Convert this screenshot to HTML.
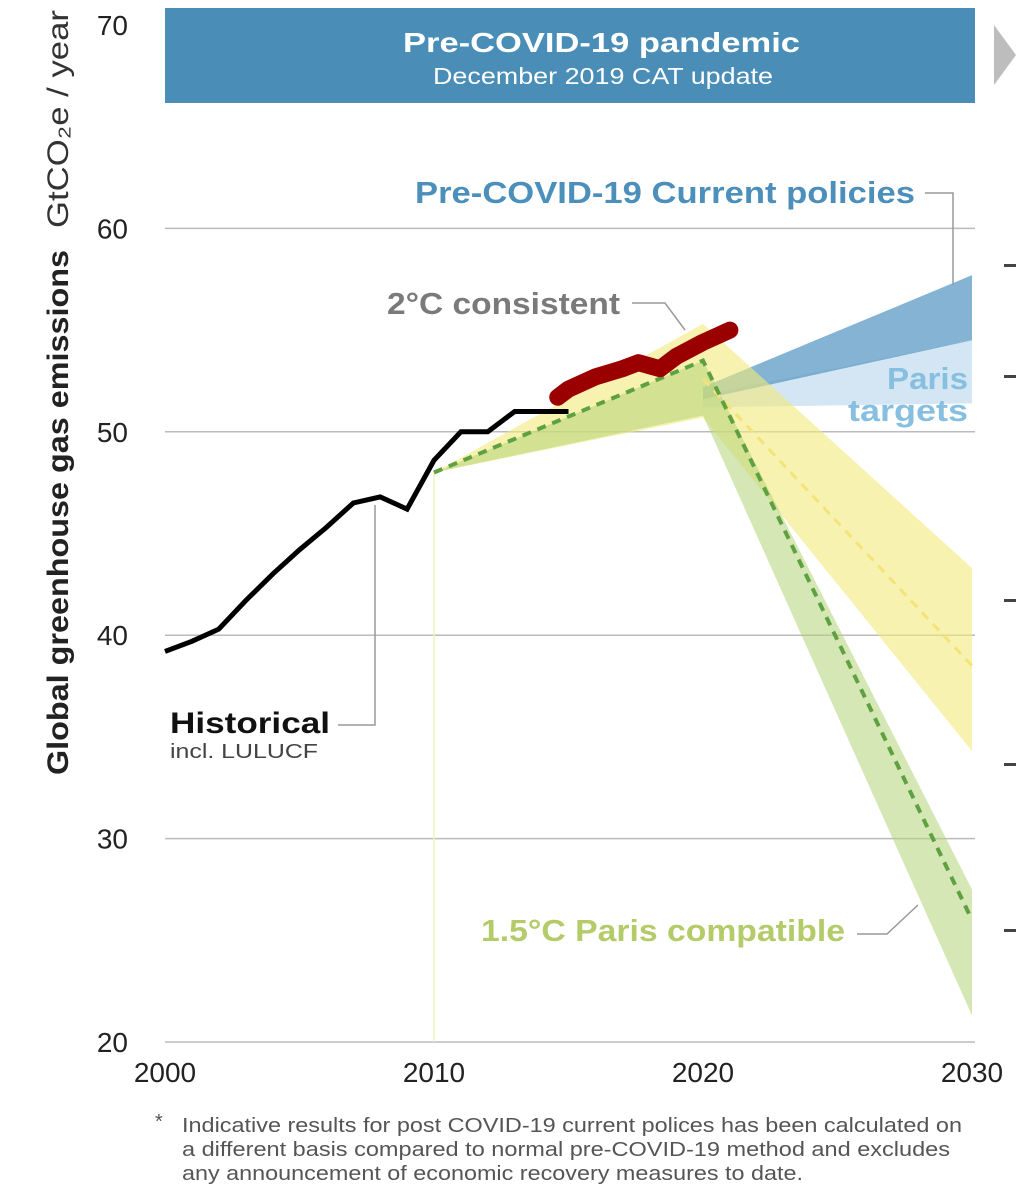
<!DOCTYPE html>
<html><head><meta charset="utf-8"><style>
body{margin:0;background:#fff;}
svg{display:block;font-family:"Liberation Sans",sans-serif;}
</style></head><body>
<svg id="chart" width="1016" height="1200" viewBox="0 0 1016 1200">
<rect x="165" y="8" width="810" height="95" fill="#4a8db7"/>
<text x="403" y="52" textLength="397" lengthAdjust="spacingAndGlyphs" fill="#fff" font-size="28" font-weight="bold">Pre-COVID-19 pandemic</text>
<text x="433" y="84" textLength="340" lengthAdjust="spacingAndGlyphs" fill="#fff" font-size="23">December 2019 CAT update</text>
<polygon points="994,25 1016,55 994,85" fill="#bdbdbd"/>
<g id="grid"></g>
<g id="marks"></g>
<g id="ylabels"></g>
<g id="xlabels"></g>
<text transform="translate(68,775) rotate(-90)" font-size="30" fill="#222" font-weight="bold" textLength="525" lengthAdjust="spacingAndGlyphs">Global greenhouse gas emissions</text>
<text transform="translate(68,228) rotate(-90)" font-size="30" fill="#333" textLength="218" lengthAdjust="spacingAndGlyphs">GtCO₂e / year</text>
<text x="415" y="203" textLength="500" lengthAdjust="spacingAndGlyphs" font-size="31" font-weight="bold" fill="#4b8fba">Pre-COVID-19 Current policies</text>
<polyline points="925,193 953,193 953,285" fill="none" stroke="#999" stroke-width="1.5"/>
<text x="387" y="314" textLength="233" lengthAdjust="spacingAndGlyphs" font-size="31" font-weight="bold" fill="#7a7a7a">2°C consistent</text>
<polyline points="632,303 665,303 685,330" fill="none" stroke="#999" stroke-width="1.5"/>
<text x="887" y="389" textLength="81" lengthAdjust="spacingAndGlyphs" font-size="31" font-weight="bold" fill="#86bfdf">Paris</text>
<text x="848" y="421" textLength="120" lengthAdjust="spacingAndGlyphs" font-size="31" font-weight="bold" fill="#86bfdf">targets</text>
<text x="481" y="941" textLength="364" lengthAdjust="spacingAndGlyphs" font-size="31" font-weight="bold" fill="#b3cb68">1.5°C Paris compatible</text>
<polyline points="857,934 887,934 918,905" fill="none" stroke="#999" stroke-width="1.5"/>
<text x="170" y="733" textLength="160" lengthAdjust="spacingAndGlyphs" font-size="30" font-weight="bold" fill="#111">Historical</text>
<text x="170" y="758" textLength="148" lengthAdjust="spacingAndGlyphs" font-size="20" fill="#444">incl. LULUCF</text>
<polyline points="338,725 375,725 375,505" fill="none" stroke="#999" stroke-width="1.5"/>
<g fill="#444">
<rect x="1004" y="264" width="12" height="3"/><rect x="1004" y="375" width="12" height="3"/><rect x="1004" y="599" width="12" height="3"/><rect x="1004" y="763" width="12" height="3"/><rect x="1004" y="929" width="12" height="3"/>
</g>
<text x="155" y="1128" font-size="20" fill="#555">*</text>
<g font-size="20" fill="#555">
<text x="182" y="1132" textLength="780" lengthAdjust="spacingAndGlyphs">Indicative results for post COVID-19 current polices has been calculated on</text>
<text x="182" y="1156" textLength="768" lengthAdjust="spacingAndGlyphs">a different basis compared to normal pre-COVID-19 method and excludes</text>
<text x="182" y="1180" textLength="621" lengthAdjust="spacingAndGlyphs">any announcement of economic recovery measures to date.</text>
</g>
</svg>
<script>
const yTicks=[20,30,40,50,60,70];
const xTicks=[2000,2010,2020,2030];
const histYears=[2000,2001,2002,2003,2004,2005,2006,2007,2008,2009,2010,2011,2012,2013,2014,2015];
const histValues=[39.2,39.7,40.3,41.7,43.0,44.2,45.3,46.5,46.8,46.2,48.6,50.0,50.0,51.0,51.0,51.0];
const recentYears=[2014.6,2015,2016,2017,2017.6,2018.4,2019,2020,2021];
const recentValues=[51.7,52.1,52.7,53.1,53.4,53.1,53.7,54.4,55.0];
const bandYears=[2010,2020,2030];
const twoCUpper=[48,55.3,43.3];
const twoCLower=[48,50.7,34.3];
const onefiveUpper=[48,53.5,27.5];
const onefiveLower=[48,50.8,21.3];
const onefiveMid=[48,53.5,26];
const projYears=[2020,2030];
const currentUpper=[52.2,57.7];
const currentLower=[51.6,54.5];
const parisUpper=[51.8,54.5];
const parisLower=[51.2,51.4];
const twoCMid=[52.6,38.5];

const X=y=>165+(y-2000)*26.9;
const Y=v=>1042-(v-20)*20.34;
const NS="http://www.w3.org/2000/svg";
function mk(tag,parent,attrs){const e=document.createElementNS(NS,tag);for(const k in attrs)e.setAttribute(k,attrs[k]);document.getElementById(parent).appendChild(e);return e;}
yTicks.forEach(v=>{
  if(v>20&&v<70){const l=mk('line','grid',{x1:165,x2:975,y1:Y(v),y2:Y(v),stroke:'#bbb','stroke-width':1.5});
  
  }
  const t=mk('text','ylabels',{x:128,y:Y(v)+10,'text-anchor':'end','font-size':28,fill:'#222'});t.textContent=v;
  
  
});
const base=mk('line','grid',{x1:165,x2:975,y1:Y(20),y2:Y(20),stroke:'#bbb','stroke-width':1.5});


xTicks.forEach(y=>{
  const t=mk('text','xlabels',{x:X(y),y:1082,'text-anchor':'middle','font-size':28,fill:'#222'});t.textContent=y;
  
  
});
function band(xs,up,lo,fill,op,name){
  const pts=xs.map((x,i)=>X(x)+','+Y(up[i])).concat(xs.map((x,i)=>X(x)+','+Y(lo[i])).reverse());
  const p=mk('polygon','marks',{points:pts.join(' '),fill:fill,'fill-opacity':op});
  
  
}
function line(xs,vs,attrs,name){
  const p=mk('polyline','marks',Object.assign({points:xs.map((x,i)=>X(x)+','+Y(vs[i])).join(' '),fill:'none'},attrs));
  
  
}
const vline=mk('line','marks',{x1:X(2010),x2:X(2010),y1:Y(48),y2:Y(20),stroke:'#eef3c0','stroke-width':1.5});


band(projYears,parisUpper,parisLower,'#c5def0',0.75,'paris-targets-band');
band(projYears,currentUpper,currentLower,'#5c9ac4',0.75,'current-policies-band');
band(bandYears,twoCUpper,twoCLower,'#f2ea7a',0.6,'2c-band');
band(bandYears,onefiveUpper,onefiveLower,'#b5d47a',0.55,'1-5c-band');
line(projYears,twoCMid,{stroke:'#f3e37a','stroke-width':3,'stroke-dasharray':'9 7'},'2c-median-line');
line(bandYears,onefiveMid,{stroke:'#5fa141','stroke-width':4,'stroke-dasharray':'9 7'},'1-5c-median-line');
line(histYears,histValues,{stroke:'#000','stroke-width':5,'stroke-linejoin':'miter'},'historical-line');
line(recentYears,recentValues,{stroke:'#9b0000','stroke-width':17,'stroke-linecap':'round','stroke-linejoin':'round'},'recent-emissions-line');
</script>
</body></html>
